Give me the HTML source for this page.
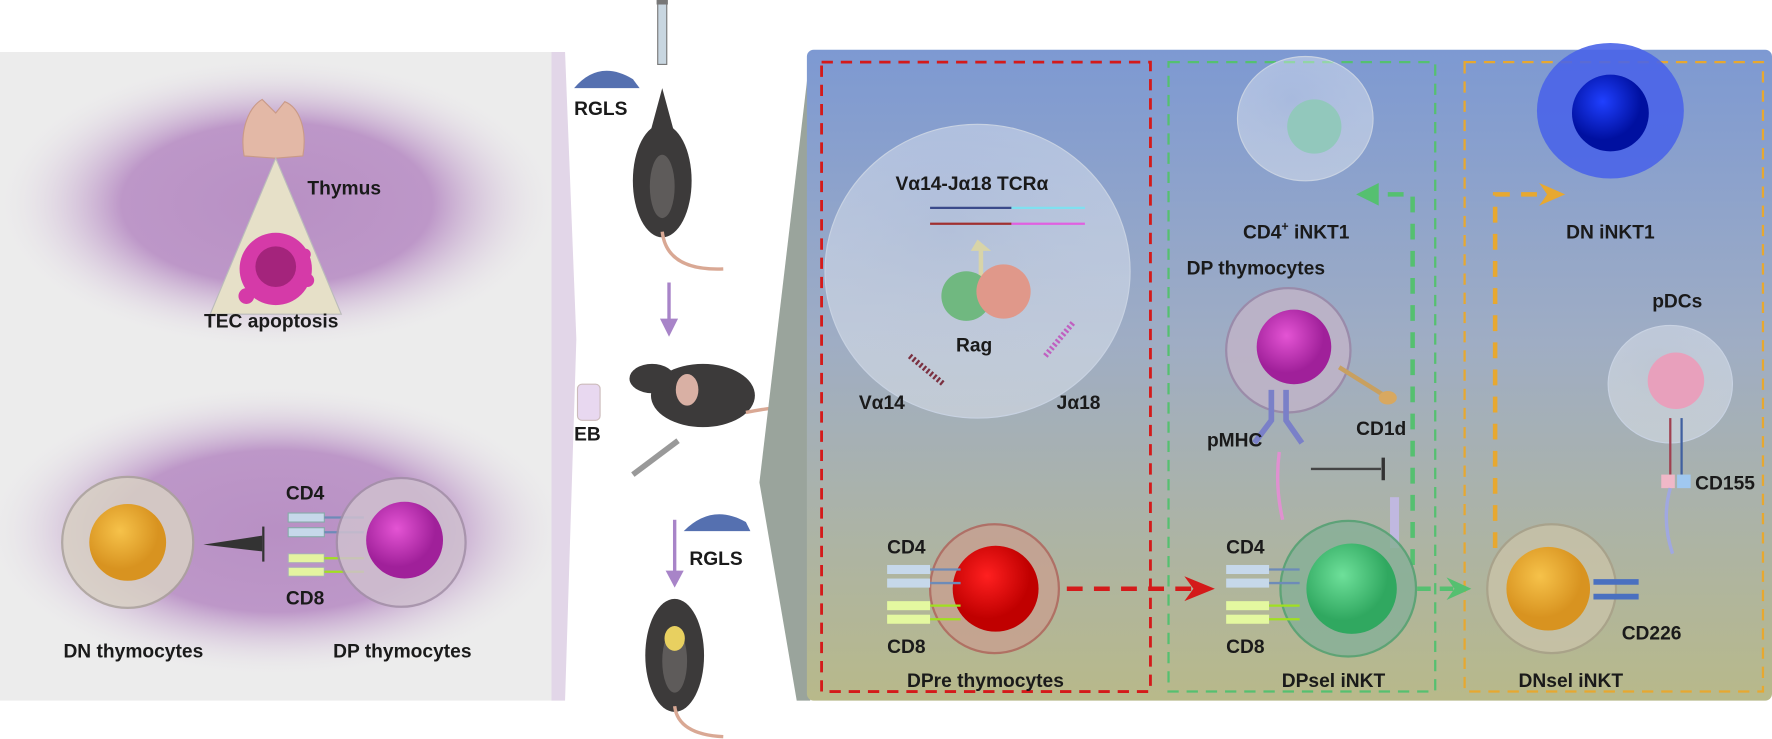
<!DOCTYPE html>
<html><head><meta charset="utf-8"><style>
html,body{margin:0;padding:0;background:#fff;width:1772px;height:739px;overflow:hidden}
svg{display:block}
text{font-family:"Liberation Sans",Arial,sans-serif;font-weight:bold;fill:#1a1a1a}
</style></head><body>
<svg width="1772" height="739" viewBox="0 0 1568 654" preserveAspectRatio="none" xmlns="http://www.w3.org/2000/svg">
<defs>
<radialGradient id="pur" cx="50%" cy="50%" r="50%">
<stop offset="0" stop-color="#b890c4"/><stop offset="0.55" stop-color="#bd97c8"/><stop offset="1" stop-color="#ececec" stop-opacity="0"/></radialGradient>
<linearGradient id="rp" x1="0" y1="0" x2="0" y2="1">
<stop offset="0" stop-color="#7d99d2"/><stop offset="0.45" stop-color="#9fadc4"/><stop offset="1" stop-color="#b8b98a"/></linearGradient>
<radialGradient id="glass" cx="40%" cy="35%" r="65%">
<stop offset="0" stop-color="#fff" stop-opacity="0.3"/><stop offset="1" stop-color="#dfe6f0" stop-opacity="0.5"/></radialGradient>
<radialGradient id="yel" cx="40%" cy="35%"><stop offset="0" stop-color="#f6c24a"/><stop offset="1" stop-color="#d89320"/></radialGradient>
<radialGradient id="mag" cx="40%" cy="35%"><stop offset="0" stop-color="#e454d4"/><stop offset="1" stop-color="#a0209a"/></radialGradient>
<radialGradient id="red" cx="40%" cy="35%"><stop offset="0" stop-color="#ff2020"/><stop offset="1" stop-color="#c00000"/></radialGradient>
<radialGradient id="grn" cx="40%" cy="35%"><stop offset="0" stop-color="#6ee09a"/><stop offset="1" stop-color="#30a860"/></radialGradient>
<radialGradient id="blu" cx="40%" cy="35%"><stop offset="0" stop-color="#2040ff"/><stop offset="1" stop-color="#0010a0"/></radialGradient>
</defs>

<!-- left panel -->
<rect x="0" y="46" width="488" height="574" fill="#ececec"/>
<ellipse cx="245" cy="180" rx="250" ry="130" fill="url(#pur)"/>
<ellipse cx="245" cy="470" rx="260" ry="130" fill="url(#pur)"/>
<polygon points="488,46 500,46 510,300 500,620 488,620" fill="#e2d6e8"/>
<!-- thymus -->
<path d="M232,88 C220,95 212,115 216,138 L244,140 L268,138 C272,115 265,95 252,90 L244,100 Z" fill="#e3b8a6" stroke="#c99a88"/>
<polygon points="244,140 186,278 302,278" fill="#e6e0c8" stroke="#bbb"/>
<circle cx="244" cy="238" r="32" fill="#d53aa8"/>
<circle cx="244" cy="236" r="18" fill="#a4247c"/>
<circle cx="218" cy="262" r="7" fill="#d53aa8"/><circle cx="272" cy="248" r="6" fill="#d53aa8"/><circle cx="270" cy="225" r="5" fill="#d53aa8"/>
<text x="272" y="172" font-size="17">Thymus</text>
<text x="240" y="290" font-size="17" text-anchor="middle">TEC apoptosis</text>
<!-- DN cell -->
<circle cx="113" cy="480" r="58" fill="#d8d0c4" stroke="#aaa29a" stroke-width="2" opacity="0.85"/>
<circle cx="113" cy="480" r="34" fill="url(#yel)"/>
<polygon points="180,482 232,474 232,488" fill="#333"/>
<line x1="233" y1="466" x2="233" y2="497" stroke="#333" stroke-width="2"/>
<text x="253" y="442" font-size="17">CD4</text>
<rect x="255" y="454" width="32" height="8" fill="#c6d8ea" stroke="#8aa"/><rect x="255" y="467" width="32" height="8" fill="#c6d8ea" stroke="#8aa"/>
<line x1="287" y1="458" x2="322" y2="458" stroke="#6d8bb8" stroke-width="2"/><line x1="287" y1="471" x2="322" y2="471" stroke="#6d8bb8" stroke-width="2"/>
<rect x="255" y="490" width="32" height="8" fill="#e4f4a0" stroke="#aab"/><rect x="255" y="502" width="32" height="8" fill="#e4f4a0" stroke="#aab"/>
<line x1="287" y1="494" x2="322" y2="494" stroke="#a0e020" stroke-width="2"/><line x1="287" y1="506" x2="322" y2="506" stroke="#a0e020" stroke-width="2"/>
<text x="253" y="535" font-size="17">CD8</text>
<circle cx="355" cy="480" r="57" fill="#cfc0cf" stroke="#a28fa6" stroke-width="2" opacity="0.85"/>
<circle cx="358" cy="478" r="34" fill="url(#mag)"/>
<text x="118" y="582" font-size="17" text-anchor="middle">DN thymocytes</text>
<text x="356" y="582" font-size="17" text-anchor="middle">DP thymocytes</text>

<!-- middle mice -->
<path d="M508,78 Q530,52 560,70 L566,78 Z" fill="#5570b0"/>
<text x="508" y="102" font-size="17">RGLS</text>
<rect x="582" y="2" width="8" height="55" fill="#c8d6e0" stroke="#777"/>
<rect x="581" y="0" width="10" height="4" fill="#777"/>
<ellipse cx="586" cy="160" rx="26" ry="50" fill="#3c3a3a"/>
<ellipse cx="586" cy="165" rx="11" ry="28" fill="#5e5b5a"/>
<polygon points="586,78 576,115 596,115" fill="#3c3a3a"/>
<path d="M586,205 Q590,240 640,238" stroke="#d9a894" stroke-width="3" fill="none"/>
<line x1="592" y1="250" x2="592" y2="288" stroke="#a884c8" stroke-width="3"/>
<polygon points="584,282 600,282 592,298" fill="#a884c8"/>
<rect x="511" y="340" width="20" height="32" rx="4" fill="#e8d8f0" stroke="#cbb"/>
<text x="508" y="390" font-size="17">EB</text>
<ellipse cx="622" cy="350" rx="46" ry="28" fill="#3c3a3a"/>
<ellipse cx="577" cy="335" rx="20" ry="13" fill="#3c3a3a"/>
<ellipse cx="608" cy="345" rx="10" ry="14" fill="#d9b0a4"/>
<path d="M660,365 Q675,362 692,360" stroke="#d9a894" stroke-width="3" fill="none"/>
<line x1="560" y1="420" x2="600" y2="390" stroke="#999" stroke-width="5"/>
<path d="M605,470 Q630,445 660,462 L664,470 Z" fill="#5570b0"/>
<text x="610" y="500" font-size="17">RGLS</text>
<line x1="597" y1="460" x2="597" y2="510" stroke="#a884c8" stroke-width="3"/>
<polygon points="589,505 605,505 597,520" fill="#a884c8"/>
<ellipse cx="597" cy="580" rx="26" ry="50" fill="#3c3a3a"/>
<ellipse cx="597" cy="585" rx="11" ry="28" fill="#5e5b5a"/>
<ellipse cx="597" cy="565" rx="9" ry="11" fill="#e8d060"/>
<path d="M597,625 Q600,650 640,652" stroke="#d9a894" stroke-width="3" fill="none"/>

<!-- right panel -->
<polygon points="717,47 672,427 705,620 717,620" fill="#9aa49c"/>
<rect x="714" y="44" width="854" height="576" rx="6" fill="url(#rp)"/>
<rect x="727" y="55" width="291" height="557" fill="none" stroke="#d41a1a" stroke-width="2.5" stroke-dasharray="10,7"/>
<rect x="1034" y="55" width="236" height="557" fill="none" stroke="#55c070" stroke-width="2" stroke-dasharray="10,7"/>
<rect x="1296" y="55" width="264" height="557" fill="none" stroke="#e7a830" stroke-width="2" stroke-dasharray="10,7"/>

<!-- red box -->
<ellipse cx="865" cy="240" rx="135" ry="130" fill="url(#glass)" stroke="#c8d2e2"/>
<text x="860" y="168" font-size="17" text-anchor="middle">Vα14-Jα18 TCRα</text>
<line x1="823" y1="184" x2="895" y2="184" stroke="#3a4a8a" stroke-width="2"/>
<line x1="823" y1="198" x2="895" y2="198" stroke="#a03030" stroke-width="2"/>
<line x1="895" y1="184" x2="960" y2="184" stroke="#80e0f0" stroke-width="2"/>
<line x1="895" y1="198" x2="960" y2="198" stroke="#e060e0" stroke-width="2"/>
<polygon points="865,212 877,222 870,222 870,260 866,260 866,222 859,222" fill="#d8d4a8"/>
<circle cx="855" cy="262" r="22" fill="#70b880"/>
<circle cx="888" cy="258" r="24" fill="#e0988a"/>
<text x="862" y="311" font-size="17" text-anchor="middle">Rag</text>
<line x1="805" y1="315" x2="835" y2="340" stroke="#7a3040" stroke-width="5" stroke-dasharray="2,2"/>
<line x1="925" y1="315" x2="950" y2="285" stroke="#c060c0" stroke-width="5" stroke-dasharray="2,2"/>
<text x="760" y="362" font-size="17">Vα14</text>
<text x="935" y="362" font-size="17">Jα18</text>
<circle cx="880" cy="521" r="57" fill="#c8a090" stroke="#b06058" stroke-width="2" opacity="0.8"/>
<circle cx="881" cy="521" r="38" fill="url(#red)"/>
<text x="785" y="490" font-size="17">CD4</text>
<rect x="785" y="500" width="38" height="8" fill="#c6d8ea"/><rect x="785" y="512" width="38" height="8" fill="#c6d8ea"/>
<line x1="823" y1="504" x2="850" y2="504" stroke="#6d8bb8" stroke-width="2"/><line x1="823" y1="516" x2="850" y2="516" stroke="#6d8bb8" stroke-width="2"/>
<rect x="785" y="532" width="38" height="8" fill="#e4f8a0"/><rect x="785" y="544" width="38" height="8" fill="#e4f8a0"/>
<line x1="823" y1="536" x2="850" y2="536" stroke="#a0e020" stroke-width="2"/><line x1="823" y1="548" x2="850" y2="548" stroke="#a0e020" stroke-width="2"/>
<text x="785" y="578" font-size="17">CD8</text>
<text x="872" y="608" font-size="17" text-anchor="middle">DPre thymocytes</text>
<line x1="944" y1="521" x2="1060" y2="521" stroke="#d41a1a" stroke-width="4" stroke-dasharray="14,10"/>
<polygon points="1048,510 1075,521 1048,532 1056,521" fill="#d41a1a"/>

<!-- green box -->
<ellipse cx="1155" cy="105" rx="60" ry="55" fill="url(#glass)" stroke="#c8d2e2"/>
<circle cx="1163" cy="112" r="24" fill="#92c8bc"/>
<text x="1147" y="211" font-size="17" text-anchor="middle">CD4<tspan font-size="11" dy="-7">+</tspan><tspan dy="7"> iNKT1</tspan></text>
<polyline points="1250,500 1250,172 1212,172" fill="none" stroke="#55c070" stroke-width="4" stroke-dasharray="14,10"/>
<polygon points="1220,162 1200,172 1220,182" fill="#55c070"/>
<text x="1050" y="243" font-size="17">DP thymocytes</text>
<circle cx="1140" cy="310" r="55" fill="#c0b4c8" stroke="#9a86a6" stroke-width="2" opacity="0.85"/>
<circle cx="1145" cy="307" r="33" fill="url(#mag)"/>
<path d="M1125,345 L1125,372 L1110,392 M1138,345 L1138,372 L1152,392" stroke="#7a80c8" stroke-width="5" fill="none"/>
<text x="1068" y="395" font-size="17">pMHC</text>
<path d="M1132,400 Q1128,430 1135,460" stroke="#e090d0" stroke-width="3" fill="none"/>
<line x1="1160" y1="415" x2="1222" y2="415" stroke="#444" stroke-width="2"/>
<line x1="1224" y1="405" x2="1224" y2="425" stroke="#333" stroke-width="3"/>
<line x1="1185" y1="325" x2="1225" y2="350" stroke="#c8a060" stroke-width="4"/>
<ellipse cx="1228" cy="352" rx="8" ry="6" fill="#d8a860"/>
<text x="1200" y="385" font-size="17">CD1d</text>
<rect x="1230" y="440" width="8" height="45" fill="#c0b8e0"/>
<circle cx="1193" cy="521" r="60" fill="#88b098" stroke="#50a070" stroke-width="2" opacity="0.85"/>
<circle cx="1196" cy="521" r="40" fill="url(#grn)"/>
<text x="1085" y="490" font-size="17">CD4</text>
<rect x="1085" y="500" width="38" height="8" fill="#c6d8ea"/><rect x="1085" y="512" width="38" height="8" fill="#c6d8ea"/>
<line x1="1123" y1="504" x2="1150" y2="504" stroke="#6d8bb8" stroke-width="2"/><line x1="1123" y1="516" x2="1150" y2="516" stroke="#6d8bb8" stroke-width="2"/>
<rect x="1085" y="532" width="38" height="8" fill="#e4f8a0"/><rect x="1085" y="544" width="38" height="8" fill="#e4f8a0"/>
<line x1="1123" y1="536" x2="1150" y2="536" stroke="#a0e020" stroke-width="2"/><line x1="1123" y1="548" x2="1150" y2="548" stroke="#a0e020" stroke-width="2"/>
<text x="1085" y="578" font-size="17">CD8</text>
<text x="1180" y="608" font-size="17" text-anchor="middle">DPsel iNKT</text>
<line x1="1254" y1="521" x2="1290" y2="521" stroke="#55c070" stroke-width="4" stroke-dasharray="12,8"/>
<polygon points="1280,511 1302,521 1280,531 1287,521" fill="#55c070"/>

<!-- orange box -->
<ellipse cx="1425" cy="98" rx="65" ry="60" fill="#4a64e8" opacity="0.9"/>
<circle cx="1425" cy="100" r="34" fill="url(#blu)"/>
<polyline points="1323,485 1323,172 1372,172" fill="none" stroke="#e7a830" stroke-width="4" stroke-dasharray="14,10"/>
<polygon points="1362,162 1385,172 1362,182 1369,172" fill="#e7a830"/>
<text x="1425" y="211" font-size="17" text-anchor="middle">DN iNKT1</text>
<text x="1462" y="272" font-size="17">pDCs</text>
<ellipse cx="1478" cy="340" rx="55" ry="52" fill="url(#glass)" stroke="#c8d2e2"/>
<circle cx="1483" cy="337" r="25" fill="#e8a0bc"/>
<line x1="1478" y1="370" x2="1478" y2="420" stroke="#a04050" stroke-width="2"/>
<line x1="1488" y1="370" x2="1488" y2="420" stroke="#4060a0" stroke-width="2"/>
<rect x="1470" y="420" width="12" height="12" fill="#f0b8c8"/><rect x="1484" y="420" width="12" height="12" fill="#a0c8f0"/>
<text x="1500" y="433" font-size="17">CD155</text>
<path d="M1478,432 Q1470,460 1480,490" stroke="#a0a8e0" stroke-width="3" fill="none"/>
<circle cx="1373" cy="521" r="57" fill="#c8c2a8" stroke="#a8a088" stroke-width="2" opacity="0.85"/>
<circle cx="1370" cy="521" r="37" fill="url(#yel)"/>
<line x1="1410" y1="515" x2="1450" y2="515" stroke="#4a70c0" stroke-width="5"/>
<line x1="1410" y1="528" x2="1450" y2="528" stroke="#4a70c0" stroke-width="5"/>
<text x="1435" y="566" font-size="17">CD226</text>
<text x="1390" y="608" font-size="17" text-anchor="middle">DNsel iNKT</text>
</svg>
</body></html>
